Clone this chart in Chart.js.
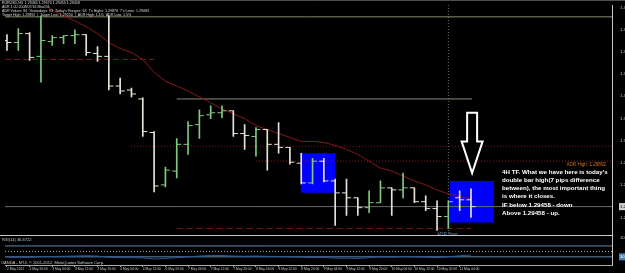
<!DOCTYPE html>
<html>
<head>
<meta charset="utf-8">
<script src="https://cdn.jsdelivr.net/npm/chart.js@4.4.1/dist/chart.umd.min.js"></script>
<style>
  html, body { margin: 0; padding: 0; background: #000; }
  canvas { display: block; }
</style>
</head>
<body>
<canvas id="mt4Chart" width="625" height="273"></canvas>
<script>
// EURUSD H4, 2 May - 11 May 2012
const timeLabels = [
  "2 May 2012", "2 May 16:00", "2 May 20:00",
  "3 May 00:00", "3 May 04:00", "3 May 08:00", "3 May 12:00", "3 May 16:00", "3 May 20:00",
  "4 May 00:00", "4 May 04:00", "4 May 08:00", "4 May 12:00", "4 May 16:00",
  "6 May 20:00",
  "7 May 00:00", "7 May 04:00", "7 May 08:00", "7 May 12:00", "7 May 16:00", "7 May 20:00",
  "8 May 00:00", "8 May 04:00", "8 May 08:00", "8 May 12:00", "8 May 16:00", "8 May 20:00",
  "9 May 00:00", "9 May 04:00", "9 May 08:00", "9 May 12:00", "9 May 16:00", "9 May 20:00",
  "10 May 00:00", "10 May 04:00", "10 May 08:00", "10 May 12:00", "10 May 16:00", "10 May 20:00",
  "11 May 00:00", "11 May 04:00", "11 May 08:00"
];

const opens = [
  1.31042, 1.31023, 1.31108, 1.30891, 1.31032, 1.31070, 1.31089, 1.31098, 1.30919, 1.30891,
  1.30608, 1.30570, 1.30485, 1.30165, 1.29665, 1.29797, 1.30052, 1.30240, 1.30334, 1.30353,
  1.30372, 1.30155, 1.30127, 1.30193, 1.30052, 1.30023, 1.29872, 1.29684, 1.29891, 1.29703,
  1.29589, 1.29542, 1.29448, 1.29495, 1.29637, 1.29618, 1.29637, 1.29505, 1.29439, 1.29363,
  1.29542, 1.29523
];
const highs = [
  1.31098, 1.31155, 1.31117, 1.31277, 1.31089, 1.31089, 1.31145, 1.31098, 1.30985, 1.31277,
  1.30683, 1.30589, 1.30495, 1.30174, 1.29835, 1.30108, 1.30268, 1.30382, 1.30419, 1.30419,
  1.30372, 1.30240, 1.30212, 1.30193, 1.30259, 1.30023, 1.29967, 1.29919, 1.29919, 1.29721,
  1.29721, 1.29542, 1.29608, 1.29703, 1.29637, 1.29778, 1.29637, 1.29561, 1.29514, 1.29514,
  1.29608, 1.29627
];
const lows = [
  1.30947, 1.30947, 1.30853, 1.30646, 1.30995, 1.31013, 1.31013, 1.30900, 1.30844, 1.30570,
  1.30532, 1.30504, 1.30127, 1.29599, 1.29646, 1.29731, 1.29957, 1.30108, 1.30297, 1.30306,
  1.30127, 1.30004, 1.29938, 1.29806, 1.29967, 1.29863, 1.29674, 1.29674, 1.29693, 1.29278,
  1.29373, 1.29373, 1.29401, 1.29495, 1.29373, 1.29542, 1.29495, 1.29420, 1.29231, 1.29250,
  1.29420, 1.29354
];
const closes = [
  1.31023, 1.31108, 1.30881, 1.31042, 1.31070, 1.31089, 1.31098, 1.30928, 1.30891, 1.30608,
  1.30561, 1.30532, 1.30174, 1.29655, 1.29806, 1.30052, 1.30231, 1.30325, 1.30353, 1.30372,
  1.30155, 1.30136, 1.30193, 1.30052, 1.30023, 1.29882, 1.29684, 1.29891, 1.29703, 1.29589,
  1.29542, 1.29448, 1.29495, 1.29637, 1.29618, 1.29637, 1.29505, 1.29439, 1.29363, 1.29505,
  1.29523, 1.29458
];

// moving average (dark red curve)
const maValues = [
  1.31607, 1.31541, 1.31475, 1.31409, 1.31334, 1.31277, 1.31230, 1.31174, 1.31108, 1.31023,
  1.30966, 1.30928, 1.30862, 1.30740, 1.30655, 1.30608, 1.30561, 1.30504, 1.30448, 1.30391,
  1.30344, 1.30297, 1.30231, 1.30193, 1.30155, 1.30118, 1.30080, 1.30080, 1.30070, 1.30042,
  1.30004, 1.29957, 1.29891, 1.29825, 1.29797, 1.29750, 1.29703, 1.29665, 1.29618, 1.29580,
  1.29552, 1.29533
];

// RSI(14) sub window
const rsiValues = [
  29, 28, 28, 31, 31, 32, 33, 34, 33, 28, 27, 27, 26, 22, 24, 27, 30, 33, 35, 35, 33,
  32, 33, 32, 31, 30, 29, 27, 28, 25, 25, 24, 27, 30, 29, 31, 30, 29, 27, 30, 34, 36.67
];

const priceTicks = [
  1.31350, 1.31245, 1.31140, 1.31035, 1.30930, 1.30825, 1.30720, 1.30615, 1.30510, 1.30405,
  1.30300, 1.30195, 1.30090, 1.29985, 1.29880, 1.29775, 1.29670, 1.29565, 1.29355, 1.29250
];
const bidPrice = 1.29458;
const rsiTicks = [100, 70, 50, 30, 0];
const rsiLevels = [70, 50, 30];

const infoLines = [
  "EURUSD,H4  1.29465 1.29570 1.29455 1.29458",
  "ADR 1.00 2008/07/16 Mod 01",
  "ADR Values: 84  Yesterdays: 93  Today's Ranges: 63  7's Highs: 1.29870  7's Lows: 1.29083",
  "Target High: 1.29892  |  Target Low: 1.29250  |  ADR High: 1.1%  ADR Low: 1.5%"
];
const noteLines = [
  "4H TF. What we have here is today's",
  "double bar high(7 pips difference",
  "between), the most important thing",
  "is where it closes.",
  "IF below 1.29458 - down",
  "Above 1.29458 - up."
];

// view range of the main window
const xMin = -0.175, xMax = 53.46;
const yMin = 1.29184, yMax = 1.31381;

// drawn objects on the chart
const boxes = [
  { from: 25.94, to: 29.01, top: 1.29967, bottom: 1.29590 },
  { from: 39.09, to: 43.03, top: 1.29703, bottom: 1.29307 }
];
const levelLines = [
  { price: 1.31268, from: xMin, to: xMax, color: "rgb(138,138,112)", dash: [] },
  { price: 1.30485, from: 15.0, to: 41.1, color: "rgb(138,138,112)", dash: [] },
  { price: 1.30862, from: xMin, to: 13.0, color: "rgb(125,22,22)", dash: [6, 3] },
  { price: 1.30033, from: 10.95, to: xMax, color: "rgb(135,30,30)", dash: [1, 2] },
  { price: 1.29892, from: 22.0, to: xMax, color: "rgb(135,30,30)", dash: [1, 2] },
  { price: 1.29250, from: 15.0, to: 41.0, color: "rgb(125,22,22)", dash: [6, 4] },
  { price: bidPrice, from: xMin, to: xMax, color: "rgb(105,105,105)", dash: [] }
];
const daySeparator = 39;
const arrow = { bar: 41.1, top: 1.30353, neck: 1.30080, tip: 1.29778 };

const upColor = "rgb(130,200,130)";
const downColor = "rgb(232,226,214)";
const barColors = closes.map((c, i) => (c >= opens[i] ? upColor : downColor));
const font = '"Liberation Sans", Arial, sans-serif';

const mt4Overlay = {
  id: "mt4Overlay",
  beforeDraw(chart) {
    const c = chart.ctx;
    c.save();
    c.fillStyle = "#000";
    c.fillRect(0, 0, chart.width, chart.height);
    c.restore();
  },
  afterDatasetsDraw(chart) {
    const c = chart.ctx;
    const x = chart.scales.x;
    const y = chart.scales.y;
    const rsi = chart.scales.rsi;
    const area = chart.chartArea;

    // arrow
    const ax = x.getPixelForValue(arrow.bar);
    const aTop = y.getPixelForValue(arrow.top);
    const aNeck = y.getPixelForValue(arrow.neck);
    const aTip = y.getPixelForValue(arrow.tip);
    c.save();
    c.beginPath();
    c.moveTo(ax - 5, aTop);
    c.lineTo(ax + 5, aTop);
    c.lineTo(ax + 5, aNeck);
    c.lineTo(ax + 10.5, aNeck);
    c.lineTo(ax, aTip);
    c.lineTo(ax - 10.5, aNeck);
    c.lineTo(ax - 5, aNeck);
    c.closePath();
    c.fillStyle = "#000";
    c.fill();
    c.strokeStyle = "#fff";
    c.lineWidth = 2;
    c.stroke();

    // note text
    c.fillStyle = "#fff";
    c.font = "bold 6.2px " + font;
    c.textBaseline = "middle";
    c.textAlign = "left";
    noteLines.forEach((t, i) => c.fillText(t, 502, 172 + i * 8.2));

    // info lines top left
    c.fillStyle = "#ddd";
    c.font = "3.6px " + font;
    infoLines.forEach((t, i) => c.fillText(t, 2, 3 + i * 4.1));

    // ADR labels
    c.fillStyle = "rgb(205,115,40)";
    c.font = "4.6px " + font;
    c.textAlign = "right";
    c.fillText("ADR High: 1.29892", area.right - 6, y.getPixelForValue(1.29892) + 4);
    c.fillStyle = "rgb(110,140,165)";
    c.textAlign = "left";
    c.fillText("ADR Start", x.getPixelForValue(38.0), y.getPixelForValue(1.29250) + 6);

    // sub window captions
    c.fillStyle = "#ccc";
    c.font = "4px " + font;
    c.fillText("RSI(14) 36.6722", 2, rsi.top + 5);
    c.fillText("OANDA - MT4, \u00a9 2001-2012, MetaQuotes Software Corp.", 1, rsi.bottom - 2.5);

    // window separators
    c.strokeStyle = "rgb(200,200,200)";
    c.lineWidth = 1;
    c.beginPath();
    c.moveTo(0, Math.round(y.bottom) + 0.5);
    c.lineTo(area.right, Math.round(y.bottom) + 0.5);
    c.stroke();
    c.strokeStyle = "rgb(80,80,80)";
    c.beginPath();
    c.moveTo(0, 0.5);
    c.lineTo(chart.width, 0.5);
    c.stroke();
    c.restore();
  }
};

const chart = new Chart(document.getElementById("mt4Chart"), {
  type: "line",
  data: {
    datasets: [
      ...boxes.map((b) => ({
        type: "line",
        data: [{ x: b.from, y: b.top }, { x: b.to, y: b.top }],
        yAxisID: "y",
        borderWidth: 0,
        pointRadius: 0,
        backgroundColor: "rgb(0,0,255)",
        fill: { value: b.bottom },
        order: 30
      })),
      ...levelLines.map((l) => ({
        type: "line",
        data: [{ x: l.from, y: l.price }, { x: l.to, y: l.price }],
        yAxisID: "y",
        borderColor: l.color,
        borderDash: l.dash,
        borderWidth: 1,
        pointRadius: 0,
        order: 20
      })),
      {
        type: "line",
        data: [{ x: daySeparator, y: yMax }, { x: daySeparator, y: yMin }],
        yAxisID: "y",
        borderColor: "rgb(110,110,110)",
        borderDash: [1, 2],
        borderWidth: 1,
        pointRadius: 0,
        order: 20
      },
      {
        type: "line",
        label: "MA",
        data: maValues.map((v, i) => ({ x: i, y: v })),
        yAxisID: "y",
        borderColor: "rgb(135,24,24)",
        borderWidth: 1,
        pointRadius: 0,
        tension: 0,
        order: 10
      },
      {
        type: "bar",
        label: "High-Low",
        data: highs.map((h, i) => ({ x: i, y: [lows[i], h] })),
        yAxisID: "y",
        backgroundColor: barColors,
        barThickness: 1,
        borderWidth: 0,
        order: 2
      },
      {
        type: "line",
        label: "Open",
        data: opens.map((o, i) => ({ x: i - 0.2, y: o })),
        yAxisID: "y",
        showLine: false,
        pointStyle: "line",
        pointRadius: 2.3,
        pointBorderWidth: 1,
        pointBorderColor: barColors,
        order: 1
      },
      {
        type: "line",
        label: "Close",
        data: closes.map((o, i) => ({ x: i + 0.2, y: o })),
        yAxisID: "y",
        showLine: false,
        pointStyle: "line",
        pointRadius: 2.3,
        pointBorderWidth: 1,
        pointBorderColor: barColors,
        order: 1
      },
      ...rsiLevels.map((lv) => ({
        type: "line",
        data: [{ x: xMin, y: lv }, { x: xMax, y: lv }],
        yAxisID: "rsi",
        borderColor: lv === 50 ? "rgb(170,170,170)" : "rgb(95,135,175)",
        borderDash: lv === 50 ? [1, 2] : [],
        borderWidth: 1,
        pointRadius: 0,
        order: 20
      })),
      {
        type: "line",
        label: "RSI(14)",
        data: rsiValues.map((v, i) => ({ x: i, y: v })),
        yAxisID: "rsi",
        borderColor: "rgb(45,85,150)",
        borderWidth: 1,
        pointRadius: 0,
        tension: 0,
        order: 5
      }
    ]
  },
  options: {
    responsive: false,
    animation: false,
    devicePixelRatio: 1,
    layout: { padding: { top: 2, left: 0, right: 0, bottom: 0 } },
    plugins: {
      legend: { display: false },
      tooltip: { enabled: false }
    },
    scales: {
      x: {
        type: "linear",
        min: xMin,
        max: xMax,
        offset: false,
        grid: { display: true, drawOnChartArea: false, drawTicks: true, tickLength: 2, color: "rgb(170,170,170)", offset: false },
        border: { display: true, color: "rgb(170,170,170)" },
        afterBuildTicks: (s) => {
          s.ticks = timeLabels.map((t, i) => i).filter((i) => i % 2 === 0).map((i) => ({ value: i }));
        },
        afterFit: (s) => { s.height = 8; },
        ticks: {
          autoSkip: false,
          maxRotation: 0,
          align: "start",
          padding: 0,
          color: "rgb(200,200,200)",
          font: { family: font, size: 3.3 },
          callback: (v) => timeLabels[v]
        }
      },
      y: {
        type: "linear",
        position: "right",
        stack: "panes",
        stackWeight: 233,
        min: yMin,
        max: yMax,
        grid: { display: false },
        border: { display: true, color: "rgb(200,200,200)" },
        afterBuildTicks: (s) => {
          s.ticks = priceTicks.concat([bidPrice]).map((v) => ({ value: v }));
        },
        afterFit: (s) => { s.width = 13; },
        ticks: {
          padding: 0,
          font: { family: font, size: 4.3 },
          color: (c) => (c.tick && c.tick.value === bidPrice ? "#000" : "rgb(200,200,200)"),
          showLabelBackdrop: (c) => !!(c.tick && c.tick.value === bidPrice),
          backdropColor: "rgb(205,205,205)",
          backdropPadding: 1,
          callback: (v) => v.toFixed(5)
        }
      },
      rsi: {
        type: "linear",
        position: "right",
        stack: "panes",
        stackWeight: 30,
        min: 0,
        max: 109,
        grid: { display: false },
        border: { display: true, color: "rgb(200,200,200)" },
        afterBuildTicks: (s) => {
          s.ticks = rsiTicks.map((v) => ({ value: v }));
        },
        afterFit: (s) => { s.width = 13; },
        ticks: {
          padding: 0,
          font: { family: font, size: 4.2 },
          color: (c) => (c.tick && (c.tick.value === 70 || c.tick.value === 30) ? "#fff" : "rgb(200,200,200)"),
          showLabelBackdrop: (c) => !!(c.tick && (c.tick.value === 70 || c.tick.value === 30)),
          backdropColor: "rgb(70,130,180)",
          backdropPadding: 1,
          callback: (v) => (v === 70 || v === 30 ? v.toFixed(4) : String(v))
        }
      }
    }
  },
  plugins: [mt4Overlay]
});
</script>
</body>
</html>
